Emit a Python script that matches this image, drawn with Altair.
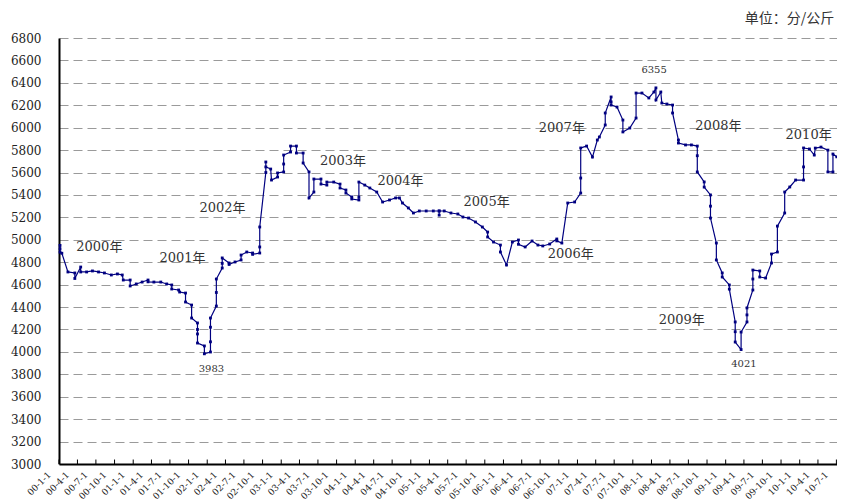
import altair as alt
import pandas as pd

# ---- price series (分/公斤) ----
dates = [
    "2000-01-06", "2000-01-06", "2000-01-06", "2000-01-15", "2000-02-14", "2000-03-19", "2000-03-19",
    "2000-04-17", "2000-04-17", "2000-05-16", "2000-06-14",
    "2000-07-14", "2000-08-12", "2000-09-15",
    "2000-10-15", "2000-11-08", "2000-11-13", "2000-12-17", "2000-12-17",
    "2001-01-16", "2001-02-14", "2001-03-15", "2001-03-15", "2001-04-13", "2001-05-17", "2001-06-15",
    "2001-07-10", "2001-07-10", "2001-08-13", "2001-08-18", "2001-09-16", "2001-09-16",
    "2001-10-16", "2001-10-16", "2001-11-14", "2001-11-14", "2001-11-14", "2001-11-14",
    "2001-12-18", "2001-12-18",
    "2002-01-17", "2002-01-17", "2002-01-17", "2002-01-17", "2002-02-15", "2002-02-15", "2002-02-15",
    "2002-03-16", "2002-03-16", "2002-03-16", "2002-04-19", "2002-04-19", "2002-05-18", "2002-06-17",
    "2002-06-17", "2002-07-15", "2002-08-13", "2002-08-13", "2002-09-17", "2002-09-17", "2002-09-17",
    "2002-10-17", "2002-10-17", "2002-10-17", "2002-11-10", "2002-11-14", "2002-12-14", "2002-12-14",
    "2003-01-13", "2003-01-13", "2003-01-13", "2003-02-16", "2003-02-16", "2003-03-17", "2003-03-17",
    "2003-04-19", "2003-04-19", "2003-05-18", "2003-05-18", "2003-06-11", "2003-06-11",
    "2003-07-16", "2003-07-16", "2003-08-14", "2003-08-14", "2003-09-17",
    "2003-10-18", "2003-10-18", "2003-11-16", "2003-11-16", "2003-12-15", "2003-12-15",
    "2004-01-19", "2004-01-19", "2004-01-19", "2004-02-17", "2004-03-13", "2004-04-16", "2004-05-15",
    "2004-06-18", "2004-07-18", "2004-08-06", "2004-08-21", "2004-09-19", "2004-10-14", "2004-11-12",
    "2004-12-16",
    "2005-01-20", "2005-02-18", "2005-02-18", "2005-02-18", "2005-03-15", "2005-04-17", "2005-05-21",
    "2005-06-15", "2005-07-13", "2005-08-16", "2005-09-19", "2005-10-15", "2005-10-15", "2005-11-13",
    "2005-12-17", "2005-12-17",
    "2006-01-16", "2006-02-14", "2006-03-16", "2006-03-16", "2006-04-18", "2006-05-22", "2006-06-20",
    "2006-07-14", "2006-08-17", "2006-09-21", "2006-09-21", "2006-10-16", "2006-11-14", "2006-12-18",
    "2007-01-17", "2007-01-17", "2007-01-17", "2007-02-15", "2007-03-16", "2007-04-09", "2007-04-19",
    "2007-05-18", "2007-05-18", "2007-06-16", "2007-06-16", "2007-06-16", "2007-07-15", "2007-08-13",
    "2007-08-13", "2007-09-16", "2007-10-17", "2007-10-17", "2007-11-15", "2007-12-19",
    "2008-01-13", "2008-01-23", "2008-01-23", "2008-02-16", "2008-02-21", "2008-03-17", "2008-04-14",
    "2008-04-14", "2008-05-13", "2008-05-13", "2008-06-17", "2008-07-16", "2008-08-14", "2008-08-14",
    "2008-08-14", "2008-09-17", "2008-09-17", "2008-10-18", "2008-10-18", "2008-10-18", "2008-11-16",
    "2008-11-16", "2008-12-15", "2008-12-15",
    "2009-01-19", "2009-01-19", "2009-02-17", "2009-02-17", "2009-02-17", "2009-03-18", "2009-03-18",
    "2009-04-16", "2009-04-16", "2009-04-16", "2009-05-15", "2009-05-15", "2009-05-15", "2009-06-18",
    "2009-06-18", "2009-07-17", "2009-08-15", "2009-08-15", "2009-09-13", "2009-09-13", "2009-10-19",
    "2009-10-19", "2009-11-13", "2009-12-12",
    "2010-01-20", "2010-01-20", "2010-01-20", "2010-02-18", "2010-03-14", "2010-03-19", "2010-04-16",
    "2010-05-20", "2010-05-20", "2010-06-14", "2010-06-14", "2010-07-03",
]
prices = [
    4950, 4920, 4890, 4880, 4713, 4704, 4655,
    4757, 4713, 4713, 4722,
    4713, 4704, 4686,
    4695, 4686, 4641, 4641, 4588,
    4606, 4623, 4641, 4625, 4623, 4623, 4606,
    4597, 4561, 4552, 4534, 4525, 4445,
    4418, 4302, 4258, 4200, 4160, 4079,
    4053, 3983,
    3999, 4090, 4220, 4302, 4409, 4530, 4650,
    4748, 4790, 4838, 4793, 4780, 4802, 4820,
    4864, 4891, 4882, 4870, 4882, 4936, 5114,
    5600, 5694, 5650, 5631, 5533, 5560, 5596,
    5605, 5676, 5756, 5783, 5836, 5836, 5774,
    5774, 5685, 5605, 5373, 5426, 5542,
    5542, 5497, 5488, 5515, 5515,
    5497, 5462, 5444, 5417, 5382, 5364,
    5355, 5380, 5515, 5488, 5462, 5426, 5337,
    5355, 5373, 5373, 5328, 5284, 5239, 5257,
    5257,
    5257, 5257, 5220, 5257, 5257, 5239, 5230,
    5203, 5194, 5159, 5114, 5069, 5025, 4980,
    4953, 4891,
    4775, 4980, 4998, 4960, 4936, 4989, 4953,
    4945, 4962, 5007, 4990, 4971, 5328, 5337,
    5417, 5551, 5819, 5836, 5738, 5890, 5917,
    6024, 6131, 6274, 6230, 6202, 6184, 6068,
    5962, 5997, 6086, 6309, 6309, 6265,
    6318, 6355, 6247, 6318, 6220, 6211, 6202,
    6131, 5890, 5863, 5846, 5846, 5836, 5750,
    5605, 5516, 5470, 5400, 5300, 5194, 4971,
    4820, 4704, 4668,
    4597, 4560, 4267, 4180, 4088, 4021, 4177,
    4267, 4330, 4392, 4552, 4650, 4730, 4722,
    4668, 4659, 4793, 4873, 4891, 5122, 5239,
    5426, 5471, 5533,
    5533, 5650, 5819, 5810, 5756, 5818, 5827,
    5800, 5605, 5605, 5765, 5740,
]

# ---- quarterly x-axis ticks (labels like 00-1-1) ----
tick_years = [y for y in range(2000, 2011) for _ in range(4)][:43]
tick_months = ([1, 4, 7, 10] * 11)[:43]

# ---- annotations ----
ann_text = ["2000年", "2001年", "2002年", "2003年", "2004年", "2005年", "2006年",
            "2007年", "2008年", "2009年", "2010年"]
ann_dates = ["2000-07-18", "2001-09-01", "2002-03-17", "2003-11-02", "2004-08-11", "2005-10-10",
             "2006-11-29", "2006-10-16", "2008-11-26", "2008-05-29", "2010-02-14"]
ann_values = [4936, 4838, 5284, 5703, 5524, 5337, 4873, 5997, 6015, 4284, 5935]

ext_text = ["6355", "3983", "4021"]
ext_dates = ["2008-01-14", "2002-01-22", "2009-04-01"]
ext_values = [6519, 3847, 3888]

y_ticks = list(range(3000, 6801, 200))

df = pd.DataFrame({"date": dates, "price": prices, "i": list(range(len(dates)))})
ann_df = pd.DataFrame({"date": ann_dates, "price": ann_values, "label": ann_text})
ext_df = pd.DataFrame({"date": ext_dates, "price": ext_values, "label": ext_text})
tick_df = pd.DataFrame({"date": [f"{y}-{m:02d}-01" for y, m in zip(tick_years, tick_months)]})

tick_values = [alt.DateTime(year=y, month=m, date=1, utc=True) for y, m in zip(tick_years, tick_months)]

x_scale = alt.Scale(
    type="utc",
    domain=[alt.DateTime(year=2000, month=1, date=1, utc=True),
            alt.DateTime(year=2010, month=7, date=4, utc=True)],
)
y_scale = alt.Scale(domain=[3000, 6800], nice=False, zero=False)

NAVY = "#000080"
SERIF = "DejaVu Serif, Noto Sans CJK SC"

x_axis = alt.Axis(
    values=tick_values,
    labelExpr="utcFormat(datum.value, '%y-%-m-%-d')",
    labelAngle=-45,
    labelAlign="right",
    labelBaseline="top",
    labelPadding=6,
    labelOffset=-13,
    labelFont="DejaVu Serif",
    labelFontSize=9,
    labelColor="#222",
    labelFlush=False,
    labelOverlap=False,
    ticks=False,
    grid=False,
    domainColor="#000",
    domainWidth=2,
    title=None,
)
y_axis = alt.Axis(
    values=y_ticks,
    format="d",
    grid=True,
    gridDash=[9, 5],
    gridColor="#9a9a9a",
    gridWidth=1.2,
    ticks=False,
    labelPadding=18,
    labelFont="DejaVu Serif",
    labelFontSize=12,
    labelColor="#222",
    labelOverlap=False,
    labelFlush=False,
    domainColor="#000",
    domainWidth=2,
    title=None,
)

X = alt.X("date:T", scale=x_scale, axis=x_axis)
Y = alt.Y("price:Q", scale=y_scale, axis=y_axis)

line = alt.Chart(df).mark_line(
    color=NAVY, strokeWidth=1.2,
    point=alt.OverlayMarkDef(filled=True, size=8, shape="square", color=NAVY),
).encode(x=X, y=Y, order=alt.Order("i:Q"))

ticks = alt.Chart(tick_df).mark_rule(color="#000", strokeWidth=1).encode(
    x=X,
    y=alt.datum(3000, scale=y_scale, axis=y_axis),
    y2=alt.datum(3040),
)

ann = alt.Chart(ann_df).mark_text(
    font=SERIF, fontSize=13, color="#333", align="center", baseline="middle",
).encode(x=X, y=Y, text="label:N")

ext = alt.Chart(ext_df).mark_text(
    font="DejaVu Serif", fontSize=10, color="#333", align="center", baseline="middle",
).encode(x=X, y=Y, text="label:N")

chart = alt.layer(line, ticks, ann, ext).properties(
    width=778,
    height=426,
    padding={"left": 51, "top": 30, "right": 0, "bottom": 40},
    autosize=alt.AutoSizeParams(type="none"),
    title=alt.TitleParams(
        "单位：分/公斤", anchor="end", fontSize=14, font="Noto Sans CJK SC",
        fontWeight="normal", color="#333", offset=6, dx=-5,
    ),
).configure_view(stroke=None)

chart.save("out.html", embed_options={"renderer": "svg", "actions": False})
